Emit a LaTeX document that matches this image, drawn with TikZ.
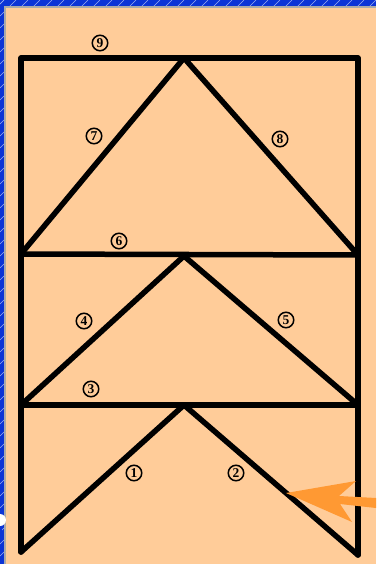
\documentclass[tikz,border=0pt]{standalone}
\usepackage{fontspec}
\setmainfont{Liberation Serif}
\definecolor{bgblue}{RGB}{12,52,214}
\definecolor{peach}{RGB}{255,204,153}
\definecolor{edgegrey}{RGB}{170,170,170}
\definecolor{arroworange}{RGB}{255,153,51}
\tikzset{
  frame/.style={line width=5.5pt, line cap=round, line join=round, black},
  numlabel/.style={circle, draw=black, line width=1.5pt, inner sep=0pt, minimum size=15.5pt,
    font=\fontsize{13.5}{13.5}\selectfont\bfseries},
}
\begin{document}
\begin{tikzpicture}[x=1pt,y=-1pt]
\useasboundingbox (0,0) rectangle (376,564);
% background
\fill[bgblue] (0,0) rectangle (376,564);
\begin{scope}
\clip (0,0) rectangle (376,564);
\foreach \k in {0,12,...,900}{
  \draw[white!60!bgblue, line width=0.4pt] (\k-400,8) -- (\k-392,0);
  \draw[white!60!bgblue, line width=0.4pt] (4,\k) -- (0,\k+4);
}
\end{scope}
\fill[edgegrey] (4,6) rectangle (376,564);
\fill[peach] (6,8.5) rectangle (376,564);
% coordinates
\coordinate (TL) at (21,58);
\coordinate (TR) at (358,58);
\coordinate (TA) at (184,58);
\coordinate (ML) at (21,254);
\coordinate (MR) at (358,255);
\coordinate (MA) at (184,256);
\coordinate (LL) at (21,405);
\coordinate (LR) at (358,405);
\coordinate (LA) at (184,405);
\coordinate (BL) at (21,552);
\coordinate (BR) at (358,555);
% frame
\draw[frame] (BL) -- (TL) -- (TR) -- (BR);
\draw[frame] (ML) -- (TA) -- (MR);
\draw[frame] (ML) -- (MR);
\draw[frame] (LL) -- (MA) -- (LR);
\draw[frame] (LL) -- (LR);
\draw[frame] (BL) -- (LA) -- (BR);
% labels
\node[numlabel] (n9) at (100,43) {9};
\node[numlabel] (n7) at (94,136) {7};
\node[numlabel] (n8) at (280,139) {8};
\node[numlabel] (n6) at (119,241) {6};
\node[numlabel] (n4) at (84,321) {4};
\node[numlabel] (n5) at (286,320) {5};
\node[numlabel] (n3) at (91,389) {3};
\node[numlabel] (n1) at (134,473) {1};
\node[numlabel] (n2) at (236,473) {2};
% orange arrow
\fill[arroworange] (286,493) -- (356,481) -- (339,496) -- (376,498) -- (376,508)
  -- (340,504) -- (352,522) -- cycle;
% white fragment at left edge
\fill[white] (0,526) arc[start angle=90, end angle=-90, radius=6] -- cycle;
\fill[bgblue] (0,529) rectangle (1.5,535);
\end{tikzpicture}
\end{document}
